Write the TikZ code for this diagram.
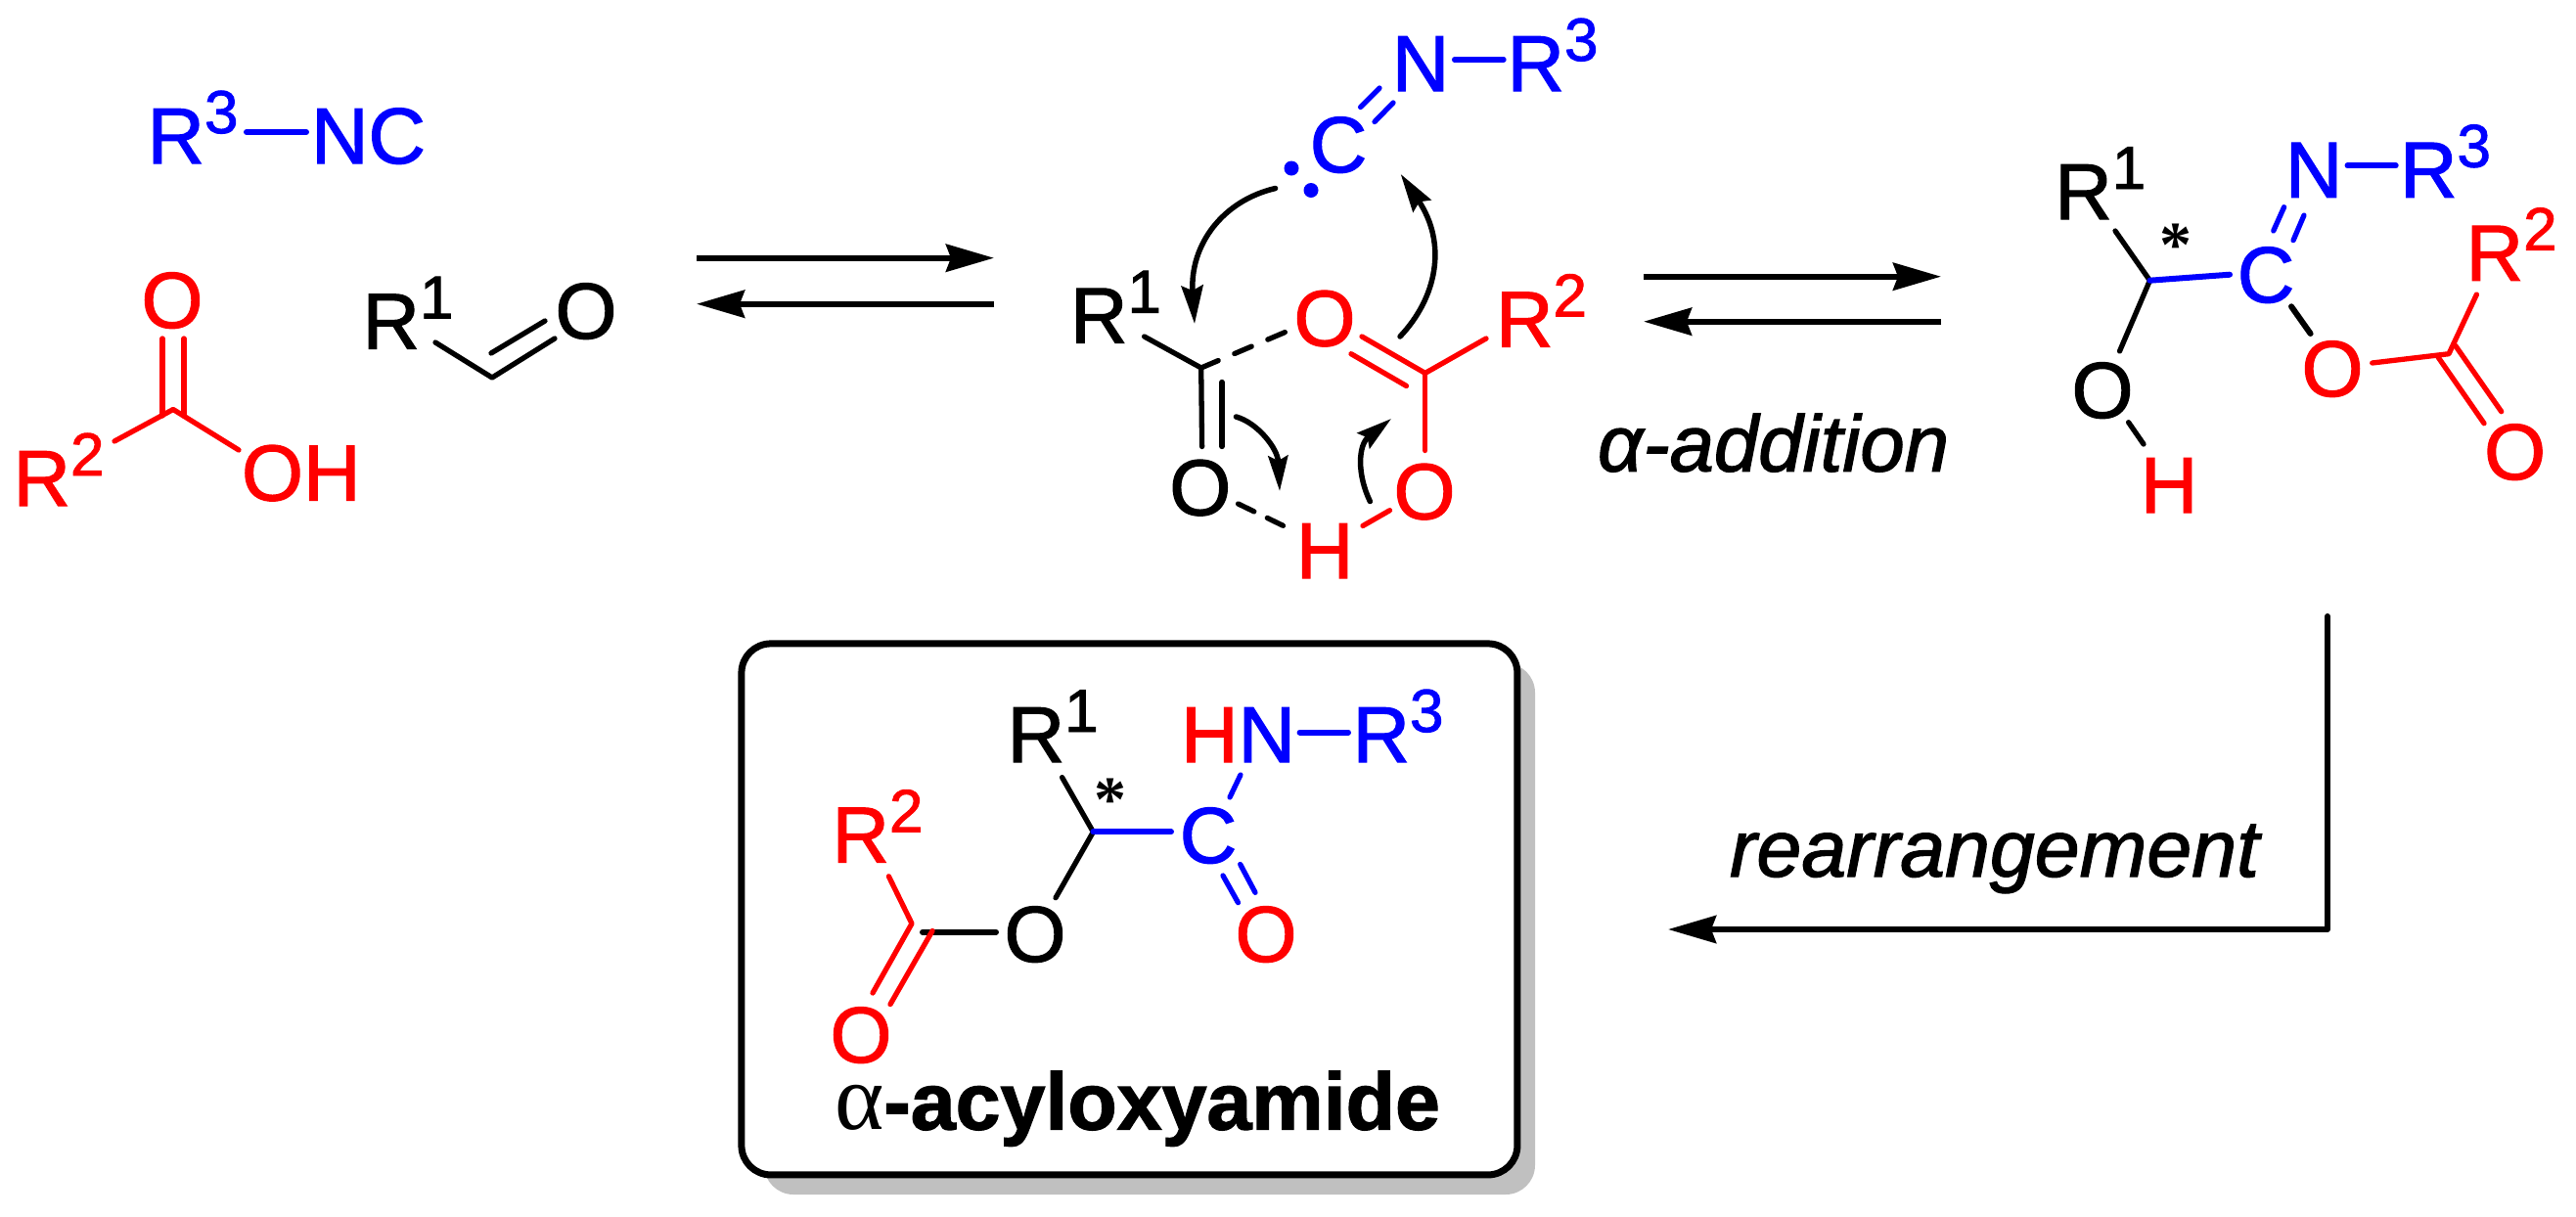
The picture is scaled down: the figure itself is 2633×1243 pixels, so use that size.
\documentclass[tikz,border=0pt]{standalone}
\usepackage{fontspec}
\setmainfont[FakeBold=1.5]{Liberation Sans}
\newfontfamily\starfont{Liberation Serif}
\usetikzlibrary{arrows.meta}
\definecolor{cblue}{RGB}{0,0,255}
\definecolor{cred}{RGB}{255,0,0}
\definecolor{cshadow}{RGB}{192,192,192}
\newcommand{\supr}[1]{\raisebox{31pt}{\fontsize{62}{62}\selectfont #1}}
\tikzset{
  every node/.style={inner sep=0pt,outer sep=0pt,font=\fontsize{81}{81}\selectfont},
  lab/.style={anchor=base west},
  atom/.style={anchor=base},
  bond/.style={line width=5.3pt,line cap=round,line join=round},
  thickbond/.style={line width=6pt,line cap=round,line join=round},
  eqarrow/.style={line width=6pt,-{Stealth[length=49pt,width=28pt,inset=5pt]}},
  curvebig/.style={line width=5.5pt,line cap=round,-{Stealth[length=39pt,width=22pt,inset=5pt]}},
  curvesmall/.style={line width=5.5pt,line cap=round,-{Stealth[length=36pt,width=20pt,inset=5pt]}},
  startext/.style={anchor=center,font=\fontsize{66}{66}\selectfont\starfont\bfseries},
  lonepair/.style={circle,fill=cblue,minimum size=15pt},
  panel/.style={draw=black,line width=7pt,rounded corners=30pt,fill=white,minimum width=793pt,minimum height=543pt},
  panelshadow/.style={fill=cshadow,rounded corners=30pt,minimum width=788pt,minimum height=543pt},
}
\begin{document}
\begin{tikzpicture}[x=1pt,y=-1pt]
\useasboundingbox (0,0) rectangle (2633,1243);

% ---------- panel ----------
\node[panelshadow] (boxshadow) at (1175,949.5) {};
\node[panel] (box) at (1154.4,929.4) {};

% ---------- starting materials ----------
\node[lab,text=cblue] (isoR) at (150.5,167) {R\supr{3}};
\node[lab,text=cblue] (isoNC) at (318,167) {NC};
\coordinate (isoA) at (252,135);
\coordinate (isoB) at (313,135);
\draw[thickbond,cblue] (isoA) -- (isoB);

\node[atom,text=cred] (acO) at (176,335) {O};
\node[lab,text=cred] (acR) at (13.5,517) {R\supr{2}};
\node[lab,text=cred] (acOH) at (247,511.5) {OH};
\coordinate (acC) at (177,418.5);
\coordinate (acD1a) at (166,346);
\coordinate (acD1b) at (166,425);
\coordinate (acD2a) at (188,346);
\coordinate (acD2b) at (188,425);
\coordinate (acRb) at (117,451);
\coordinate (acOb) at (244,460);
\draw[bond,cred] (acD1a) -- (acD1b);
\draw[bond,cred] (acD2a) -- (acD2b);
\draw[bond,cred] (acRb) -- (acC) -- (acOb);

\node[lab] (alR) at (370.5,356.5) {R\supr{1}};
\node[atom] (alO) at (599,346) {O};
\coordinate (alRb) at (445,350);
\coordinate (alC) at (503,386);
\coordinate (alOb) at (567,346);
\coordinate (alIa) at (502,361);
\coordinate (alIb) at (557,328);
\draw[bond] (alRb) -- (alC) -- (alOb);
\draw[bond] (alIa) -- (alIb);

% ---------- equilibrium 1 ----------
\coordinate (eq1a) at (712,263.7);
\coordinate (eq1b) at (1016,263.7);
\coordinate (eq1c) at (1016,310.7);
\coordinate (eq1d) at (712,310.7);
\draw[eqarrow] (eq1a) -- (eq1b);
\draw[eqarrow] (eq1c) -- (eq1d);

% ---------- transition state ----------
\node[atom,text=cblue] (tsN) at (1452,93) {N};
\node[lab,text=cblue] (tsR3) at (1540.5,93) {R\supr{3}};
\node[atom,text=cblue] (tsC) at (1368,176) {C};
\node[lonepair] (dot1) at (1320,172) {};
\node[lonepair] (dot2) at (1340,194.5) {};
\coordinate (tsNRa) at (1486.6,61);
\coordinate (tsNRb) at (1537,61);
\coordinate (tsD1a) at (1390.6,109.5);
\coordinate (tsD1b) at (1410,90);
\coordinate (tsD2a) at (1405,124.5);
\coordinate (tsD2b) at (1424,105);
\draw[bond,cblue] (tsNRa) -- (tsNRb);
\draw[bond,cblue] (tsD1a) -- (tsD1b);
\draw[bond,cblue] (tsD2a) -- (tsD2b);

\node[lab] (tsR1) at (1094,350.6) {R\supr{1}};
\node[atom,text=cred] (tsO1) at (1354,353.5) {O};
\node[lab,text=cred] (tsR2) at (1529,354.5) {R\supr{2}};
\node[atom] (tsO2) at (1226.8,526.5) {O};
\node[atom,text=cred] (tsO3) at (1456,530.5) {O};
\node[atom,text=cred] (tsH) at (1354,591) {H};

\coordinate (tsC1) at (1227.7,376);
\coordinate (tsR1b) at (1169.6,344);
\coordinate (tsO2b) at (1228.6,456.5);
\coordinate (tsIa) at (1249,390.5);
\coordinate (tsIb) at (1249,456.5);
\coordinate (tsDashEnd) at (1316,338.5);
\draw[bond] (tsR1b) -- (tsC1) -- (tsO2b);
\draw[bond] (tsIa) -- (tsIb);
\draw[bond,dash pattern=on 19pt off 18pt] (tsC1) -- (tsDashEnd);

\coordinate (tsC2) at (1456.7,381.4);
\coordinate (tsDa) at (1392,344);
\coordinate (tsDb) at (1381,361.7);
\coordinate (tsDc) at (1437.5,394.5);
\coordinate (tsR2b) at (1519,346);
\coordinate (tsO3b) at (1456.7,460.5);
\draw[bond,cred] (tsDa) -- (tsC2) -- (tsR2b);
\draw[bond,cred] (tsC2) -- (tsO3b);
\draw[bond,cred] (tsDb) -- (tsDc);

\coordinate (tsHa) at (1265.6,515);
\coordinate (tsHb) at (1316,539.5);
\draw[bond,dash pattern=on 18pt off 15pt] (tsHa) -- (tsHb);
\coordinate (tsHc) at (1393,537.5);
\coordinate (tsHd) at (1420.5,521.7);
\draw[bond,cred] (tsHc) -- (tsHd);

% curved arrows
\coordinate (cv1s) at (1303.6,192.5);
\coordinate (cv1e) at (1221,331);
\draw[curvebig] (cv1s) .. controls (1250,205) and (1216,250) .. (cv1e);
\coordinate (cv2s) at (1431,344);
\coordinate (cv2e) at (1431.7,178);
\draw[curvebig] (cv2s) .. controls (1468,305) and (1480,250) .. (cv2e);
\coordinate (cv3s) at (1263.4,426);
\coordinate (cv3e) at (1308,502);
\draw[curvesmall] (cv3s) .. controls (1285,432) and (1306,458) .. (cv3e);
\coordinate (cv4s) at (1400.4,512.6);
\coordinate (cv4e) at (1422,428);
\draw[curvesmall] (cv4s) .. controls (1387,485) and (1388,455) .. (cv4e);

% ---------- equilibrium 2 ----------
\coordinate (eq2a) at (1680,282.7);
\coordinate (eq2b) at (1984,282.7);
\coordinate (eq2c) at (1984,328.7);
\coordinate (eq2d) at (1680,328.7);
\draw[eqarrow] (eq2a) -- (eq2b);
\draw[eqarrow] (eq2c) -- (eq2d);
\node[lab,font=\fontsize{81.5}{81.5}\selectfont\itshape] (lblAdd) at (1633,481.7) {α-addition};

% ---------- imidate ----------
\node[lab] (imR1) at (2100.3,224) {R\supr{1}};
\node[atom] (imO1) at (2149,427) {O};
\node[atom,text=cred] (imH) at (2217,524) {H};
\node[atom,text=cblue] (imC) at (2316,309) {C};
\node[atom,text=cblue] (imN) at (2365,201.7) {N};
\node[lab,text=cblue] (imR3) at (2453,201.7) {R\supr{3}};
\node[atom,text=cred] (imO2) at (2384,405) {O};
\node[lab,text=cred] (imR2) at (2520.6,286.7) {R\supr{2}};
\node[atom,text=cred] (imO3) at (2570.6,490) {O};
\node[startext] (imStar) at (2224.4,251) {*};

\coordinate (imV) at (2197.4,286.7);
\coordinate (imR1b) at (2162,236);
\coordinate (imO1b) at (2166.5,359);
\coordinate (imCb) at (2279,280.7);
\coordinate (imOHa) at (2175.6,431.7);
\coordinate (imOHb) at (2191,454);
\draw[bond] (imR1b) -- (imV) -- (imO1b);
\draw[bond] (imOHa) -- (imOHb);
\draw[thickbond,cblue] (imV) -- (imCb);
\coordinate (imD1a) at (2334.6,211.7);
\coordinate (imD1b) at (2323.7,236);
\coordinate (imD2a) at (2355,220);
\coordinate (imD2b) at (2344,245.7);
\draw[bond,cblue] (imD1a) -- (imD1b);
\draw[bond,cblue] (imD2a) -- (imD2b);
\coordinate (imNRa) at (2399.5,169.3);
\coordinate (imNRb) at (2448.7,169.3);
\draw[thickbond,cblue] (imNRa) -- (imNRb);
\coordinate (imCOa) at (2342,313.3);
\coordinate (imCOb) at (2361.6,341);
\draw[thickbond] (imCOa) -- (imCOb);
\coordinate (imV2) at (2503,361.7);
\coordinate (imO2b) at (2424.7,371);
\coordinate (imR2b) at (2531.4,301);
\draw[bond,cred] (imO2b) -- (imV2) -- (imR2b);
\coordinate (imE1a) at (2492,365);
\coordinate (imE1b) at (2539,432.7);
\coordinate (imE2a) at (2509.7,353.3);
\coordinate (imE2b) at (2556.7,420.7);
\draw[bond,cred] (imE1a) -- (imE1b);
\draw[bond,cred] (imE2a) -- (imE2b);

% ---------- rearrangement ----------
\coordinate (reA) at (2379,630);
\coordinate (reB) at (2379,950);
\coordinate (reC) at (1705,950);
\draw[eqarrow,line cap=round,line join=round] (reA) -- (reB) -- (reC);
\node[lab,font=\fontsize{82.5}{82.5}\selectfont\itshape] (lblRe) at (1768,896) {rearrangement};

% ---------- product ----------
\node[lab] (prR1) at (1029.7,779) {R\supr{1}};
\node[lab] (prHN) at (1207,779) {\textcolor{cred}{H}\textcolor{cblue}{N}};
\node[lab,text=cblue] (prR3) at (1382.5,779) {R\supr{3}};
\node[atom,text=cblue] (prC) at (1235,882) {C};
\node[atom,text=cred] (prO1) at (1294,983) {O};
\node[atom] (prO2) at (1058,983) {O};
\node[lab,text=cred] (prR2) at (850.5,881.5) {R\supr{2}};
\node[atom,text=cred] (prO3) at (880,1086) {O};
\node[startext] (prStar) at (1135,818) {*};

\coordinate (prNRa) at (1328.6,748.5);
\coordinate (prNRb) at (1378,748.5);
\draw[thickbond,cblue] (prNRa) -- (prNRb);
\coordinate (prNCa) at (1268,792);
\coordinate (prNCb) at (1257,815);
\draw[bond,cblue] (prNCa) -- (prNCb);
\coordinate (prV) at (1117.4,850.4);
\coordinate (prR1b) at (1085.6,794.6);
\coordinate (prO2b) at (1079,917.7);
\coordinate (prCb) at (1197,850.4);
\draw[bond] (prR1b) -- (prV) -- (prO2b);
\draw[thickbond,cblue] (prV) -- (prCb);
\coordinate (prD1a) at (1267.7,883.5);
\coordinate (prD1b) at (1283,912.3);
\coordinate (prD2a) at (1250,895);
\coordinate (prD2b) at (1265.5,922.7);
\draw[bond,cblue] (prD1a) -- (prD1b);
\draw[bond,cblue] (prD2a) -- (prD2b);
\coordinate (prV2) at (943,952.7);
\coordinate (prO2c) at (1018,952.7);
\draw[thickbond] (prV2) -- (prO2c);
\coordinate (prR2b) at (908.4,895.8);
\coordinate (prE0) at (932,944);
\coordinate (prE1) at (892,1015);
\coordinate (prE2a) at (953,951.5);
\coordinate (prE2b) at (910,1026.5);
\draw[bond,cred] (prR2b) -- (prE0) -- (prE1);
\draw[bond,cred] (prE2a) -- (prE2b);
\node[lab,font=\fontsize{82.5}{82.5}\selectfont\bfseries] (prName) at (853,1154.6) {{\fontsize{96}{96}\selectfont\starfont\mdseries α}-acyloxyamide};
\end{tikzpicture}
\end{document}
